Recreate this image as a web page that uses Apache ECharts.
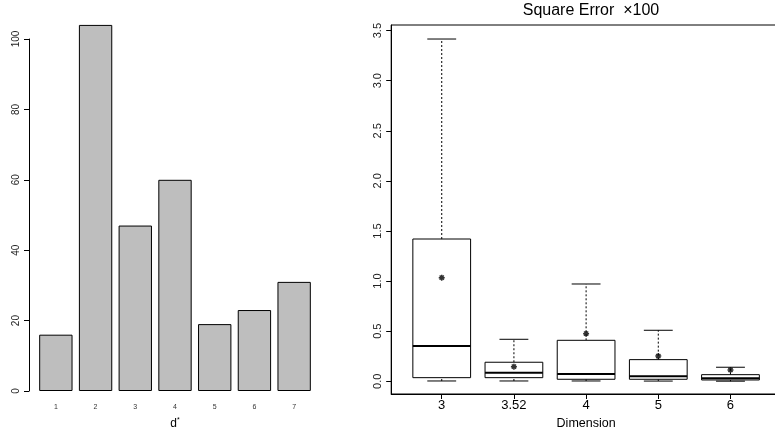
<!DOCTYPE html>
<html>
<head>
<meta charset="utf-8">
<script src="https://cdn.jsdelivr.net/npm/echarts@6/dist/echarts.min.js"></script>
<style>
html,body{margin:0;padding:0;background:#fff;}
#chart{width:775px;height:429px;}
</style>
</head>
<body>
<div id="chart"></div>
<script>
// ---- Left panel: bar chart of d* counts ----
var barCategories = ['1', '2', '3', '4', '5', '6', '7'];
var barValues = [16, 104, 47, 60, 19, 23, 31];
var barTickMax = 100;
var barTickStep = 20;

// ---- Right panel: box plot of Square Error x100 by dimension ----
var dimLabels = ['3', '3.52', '4', '5', '6'];
var dimPositions = [1, 2, 3, 4, 5];
var whiskerLow = [0.003, 0.003, 0.003, 0.002, 0.001];
var q1 = [0.036, 0.036, 0.020, 0.020, 0.013];
var median = [0.352, 0.086, 0.073, 0.050, 0.030];
var q3 = [1.420, 0.190, 0.409, 0.216, 0.066];
var whiskerHigh = [3.416, 0.419, 0.971, 0.509, 0.140];
var means = [1.034, 0.146, 0.475, 0.252, 0.113];
var errTicks = [0, 0.5, 1.0, 1.5, 2.0, 2.5, 3.0, 3.5];

var FONT = '"Liberation Sans", Arial, sans-serif';

var boxData = dimPositions.map(function (p, i) {
  return [p, whiskerLow[i], q1[i], median[i], q3[i], whiskerHigh[i]];
});
var meanData = dimPositions.map(function (p, i) { return [p, means[i]]; });

function renderBox(params, api) {
  var x = api.value(0);
  var lo = api.value(1), a = api.value(2), m = api.value(3), b = api.value(4), hi = api.value(5);
  var boxW = api.size([0.8, 0])[0];
  var capW = api.size([0.4, 0])[0];
  var pLo = api.coord([x, lo]);
  var pA = api.coord([x, a]);
  var pM = api.coord([x, m]);
  var pB = api.coord([x, b]);
  var pHi = api.coord([x, hi]);
  var cx = pA[0];
  var solid = { stroke: '#000', lineWidth: 1, fill: null };
  var dotted = { stroke: '#000', lineWidth: 1, lineDash: [2, 2], fill: null };
  return {
    type: 'group',
    children: [
      { type: 'line', shape: { x1: cx, y1: pB[1], x2: cx, y2: pHi[1] }, style: dotted },
      { type: 'line', shape: { x1: cx, y1: pLo[1], x2: cx, y2: pA[1] }, style: dotted },
      { type: 'line', shape: { x1: cx - capW / 2, y1: pHi[1], x2: cx + capW / 2, y2: pHi[1] }, style: solid },
      { type: 'line', shape: { x1: cx - capW / 2, y1: pLo[1], x2: cx + capW / 2, y2: pLo[1] }, style: solid },
      { type: 'rect', shape: { x: cx - boxW / 2, y: pB[1], width: boxW, height: pA[1] - pB[1] },
        style: { stroke: '#000', lineWidth: 1, fill: '#fff' } },
      { type: 'line', shape: { x1: cx - boxW / 2, y1: pM[1], x2: cx + boxW / 2, y2: pM[1] },
        style: { stroke: '#000', lineWidth: 2 } }
    ]
  };
}

var chart = echarts.init(document.getElementById('chart'), null, { renderer: 'canvas' });

chart.setOption({
  animation: false,
  backgroundColor: '#fff',
  textStyle: { fontFamily: FONT },
  title: {
    text: 'Square Error  \u00d7100',
    left: 586,
    top: -2,
    textAlign: 'center',
    textStyle: { fontFamily: FONT, fontSize: 16, fontWeight: 'normal', color: '#000' }
  },
  grid: [
    { left: 36, top: 39, width: 278, bottom: 38, containLabel: false, outerBoundsMode: 'none' },
    { left: 391.2, top: 25, right: -6, bottom: 35, containLabel: false, outerBoundsMode: 'none',
      show: true, borderColor: '#000', borderWidth: 1, backgroundColor: 'transparent' }
  ],
  xAxis: [
    {
      gridIndex: 0,
      type: 'category',
      data: barCategories,
      boundaryGap: true,
      axisLine: { show: false },
      axisTick: { show: false },
      axisLabel: { fontSize: 7, color: '#333', margin: 13, fontFamily: FONT },
      name: 'd{s|*}',
      nameLocation: 'middle',
      nameGap: 26,
      nameTextStyle: {
        fontSize: 12, color: '#000', fontFamily: FONT,
        rich: { s: { fontSize: 7, verticalAlign: 'top', color: '#000', padding: [0, 0, 6, 0] } }
      }
    },
    {
      gridIndex: 1,
      type: 'value',
      min: 0.3,
      max: 5.7,
      splitLine: { show: false },
      axisLine: { show: true, onZero: false, lineStyle: { color: '#000', width: 1 } },
      axisTick: { show: true, length: 5, customValues: dimPositions, lineStyle: { color: '#000' } },
      axisLabel: {
        customValues: dimPositions,
        fontSize: 13, color: '#000', margin: 5, fontFamily: FONT,
        formatter: function (v) { return dimLabels[Math.round(v) - 1]; }
      },
      name: 'Dimension',
      nameLocation: 'middle',
      nameGap: 22,
      nameTextStyle: { fontSize: 12.5, color: '#000', fontFamily: FONT }
    }
  ],
  yAxis: [
    {
      gridIndex: 0,
      type: 'value',
      min: 0,
      max: barTickMax,
      interval: barTickStep,
      offset: 7,
      splitLine: { show: false },
      axisLine: { show: true, onZero: false, lineStyle: { color: '#000', width: 1 } },
      axisTick: { show: true, length: 5, lineStyle: { color: '#000' } },
      axisLabel: { rotate: 90, fontSize: 10, color: '#222', margin: 8, fontFamily: FONT }
    },
    {
      gridIndex: 1,
      type: 'value',
      min: -0.127,
      max: 3.556,
      splitLine: { show: false },
      axisLine: { show: true, onZero: false, lineStyle: { color: '#000', width: 1 } },
      axisTick: { show: true, length: 5, customValues: errTicks, lineStyle: { color: '#000' } },
      axisLabel: {
        customValues: errTicks,
        rotate: 90, fontSize: 11, color: '#222', margin: 8, fontFamily: FONT,
        formatter: function (v) { return v.toFixed(1); }
      }
    }
  ],
  series: [
    {
      type: 'bar',
      xAxisIndex: 0,
      yAxisIndex: 0,
      data: barValues,
      clip: false,
      barCategoryGap: '16%',
      itemStyle: { color: '#bebebe', borderColor: '#000', borderWidth: 1 }
    },
    {
      type: 'custom',
      xAxisIndex: 1,
      yAxisIndex: 1,
      data: boxData,
      renderItem: renderBox,
      encode: { x: 0, y: [1, 2, 3, 4, 5] },
      clip: false,
      z: 2
    },
    {
      type: 'scatter',
      xAxisIndex: 1,
      yAxisIndex: 1,
      data: meanData,
      symbol: 'path://M5,0L5,10M0,5L10,5M1.5,1.5L8.5,8.5M1.5,8.5L8.5,1.5',
      symbolSize: 6,
      itemStyle: { color: '#000', borderColor: '#000', borderWidth: 1.5 },
      z: 3
    }
  ]
});
</script>
</body>
</html>
